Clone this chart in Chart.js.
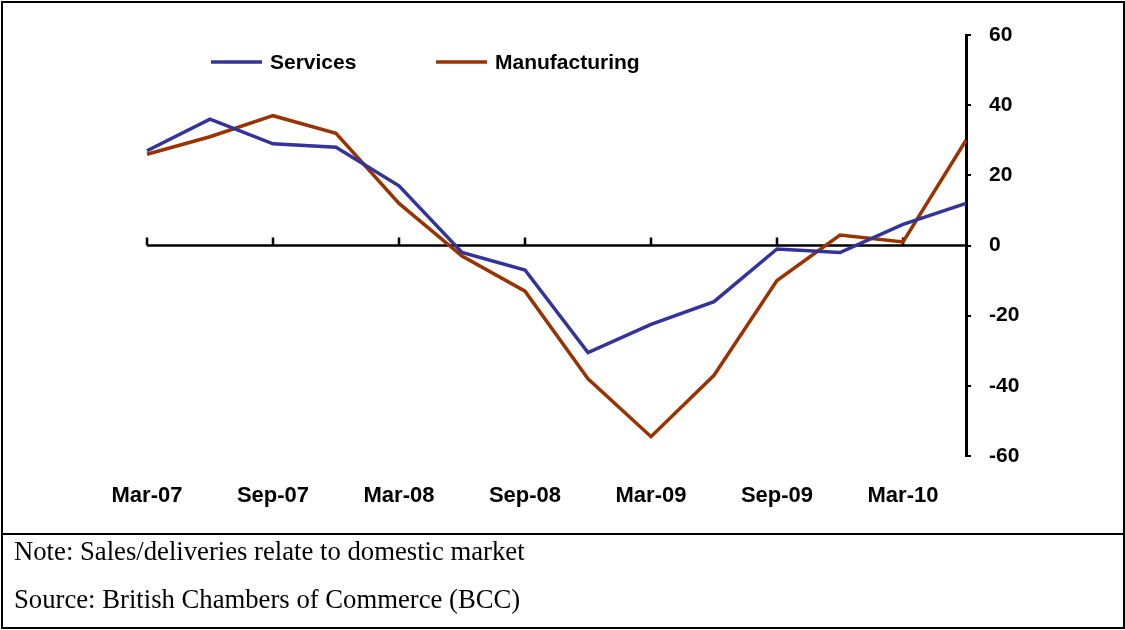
<!DOCTYPE html>
<html>
<head>
<meta charset="utf-8">
<title>BCC survey: domestic sales balance</title>
<script src="https://cdn.jsdelivr.net/npm/chart.js"></script>
<style>
  body { margin:0; background:#fff; }
  #frame { position:absolute; left:1px; top:1px; width:1120px; height:624px; border:2px solid #000; }
  #sep { position:absolute; left:1px; top:533px; width:1124px; height:0; border-top:2px solid #000; }
  #chartBox { position:absolute; left:0; top:0; width:1125px; height:533px; }
  .note { position:absolute; left:14px; font-family:"Times New Roman","Liberation Serif",serif; font-size:26.7px; line-height:26.7px; color:#000; white-space:nowrap; }
</style>
</head>
<body>
<div id="chartBox"><canvas id="salesChart"></canvas></div>
<div id="frame"></div>
<div id="sep"></div>
<div class="note" style="top:537.5px">Note: Sales/deliveries relate to domestic market</div>
<div class="note" style="top:585.5px">Source: British Chambers of Commerce (BCC)</div>

<script>
// quarterly balances, % of firms
const quarters = ['Mar-07','Jun-07','Sep-07','Dec-07','Mar-08','Jun-08','Sep-08','Dec-08','Mar-09','Jun-09','Sep-09','Dec-09','Mar-10','Jun-10'];
const services = [27, 36, 29, 28, 17, -2, -7, -30.5, -22.5, -16, -1, -2, 6, 12];
const manufacturing = [26, 31, 37, 32, 12, -3, -13, -38, -54.5, -37, -10, 3, 1, 30];
const yMin = -60, yMax = 60, yStep = 20;

const FONT = 'Arial, "Liberation Sans", sans-serif';

// zero line with small upward ticks every half year
const zeroAxis = {
    id: 'zeroAxis',
    beforeDatasetsDraw(chart) {
        const { ctx, scales: { x, y } } = chart;
        const y0 = y.getPixelForValue(0);
        ctx.save();
        ctx.strokeStyle = '#000';
        ctx.lineWidth = 2.5;
        ctx.beginPath();
        ctx.moveTo(x.left, y0);
        ctx.lineTo(x.right, y0);
        quarters.forEach((q, i) => {
            if (i % 2 === 0) {
                const px = x.getPixelForValue(i);
                ctx.moveTo(px, y0);
                ctx.lineTo(px, y0 - 8);
            }
        });
        ctx.stroke();
        ctx.restore();
    }
};

// legend: short line + bold label
const lineLegend = {
    id: 'lineLegend',
    afterDraw(chart) {
        const ctx = chart.ctx;
        const spots = [211, 436];
        chart.data.datasets.forEach((ds, i) => {
            const x = spots[i], y = 62;
            ctx.save();
            ctx.strokeStyle = ds.borderColor;
            ctx.lineWidth = ds.borderWidth;
            ctx.beginPath();
            ctx.moveTo(x, y);
            ctx.lineTo(x + 51, y);
            ctx.stroke();
            ctx.fillStyle = '#000';
            ctx.font = 'bold 21px ' + FONT;
            ctx.textBaseline = 'middle';
            ctx.fillText(ds.label, x + 59, y + 1);
            ctx.restore();
        });
    }
};

new Chart(document.getElementById('salesChart'), {
    type: 'line',
    data: {
        labels: quarters,
        datasets: [
            { label: 'Services', data: services, borderColor: '#333399', borderWidth: 3.5, pointRadius: 0, tension: 0, fill: false },
            { label: 'Manufacturing', data: manufacturing, borderColor: '#993300', borderWidth: 3.5, pointRadius: 0, tension: 0, fill: false }
        ]
    },
    options: {
        responsive: true,
        maintainAspectRatio: false,
        animation: false,
        events: [],
        layout: { padding: { left: 147, right: 99, top: 35, bottom: 0 } },
        plugins: { legend: { display: false }, tooltip: { enabled: false } },
        scales: {
            x: {
                grid: { display: false },
                border: { display: false },
                afterFit: s => { s.height = 77; },
                ticks: {
                    autoSkip: false, maxRotation: 0, color: '#000', padding: 19,
                    font: { family: FONT, size: 22, weight: 'bold' },
                    callback: (v, i) => i % 2 === 0 ? quarters[i] : ''
                }
            },
            y: {
                position: 'right',
                min: yMin, max: yMax,
                afterFit: s => { s.width = 60; },
                grid: { drawOnChartArea: false, drawTicks: true, tickLength: 5, color: '#000', lineWidth: 2 },
                border: { display: true, color: '#000', width: 3 },
                ticks: {
                    stepSize: yStep, color: '#000', padding: 18,
                    font: { family: FONT, size: 21, weight: 'bold' }
                }
            }
        }
    },
    plugins: [zeroAxis, lineLegend]
});
</script>
</body>
</html>
